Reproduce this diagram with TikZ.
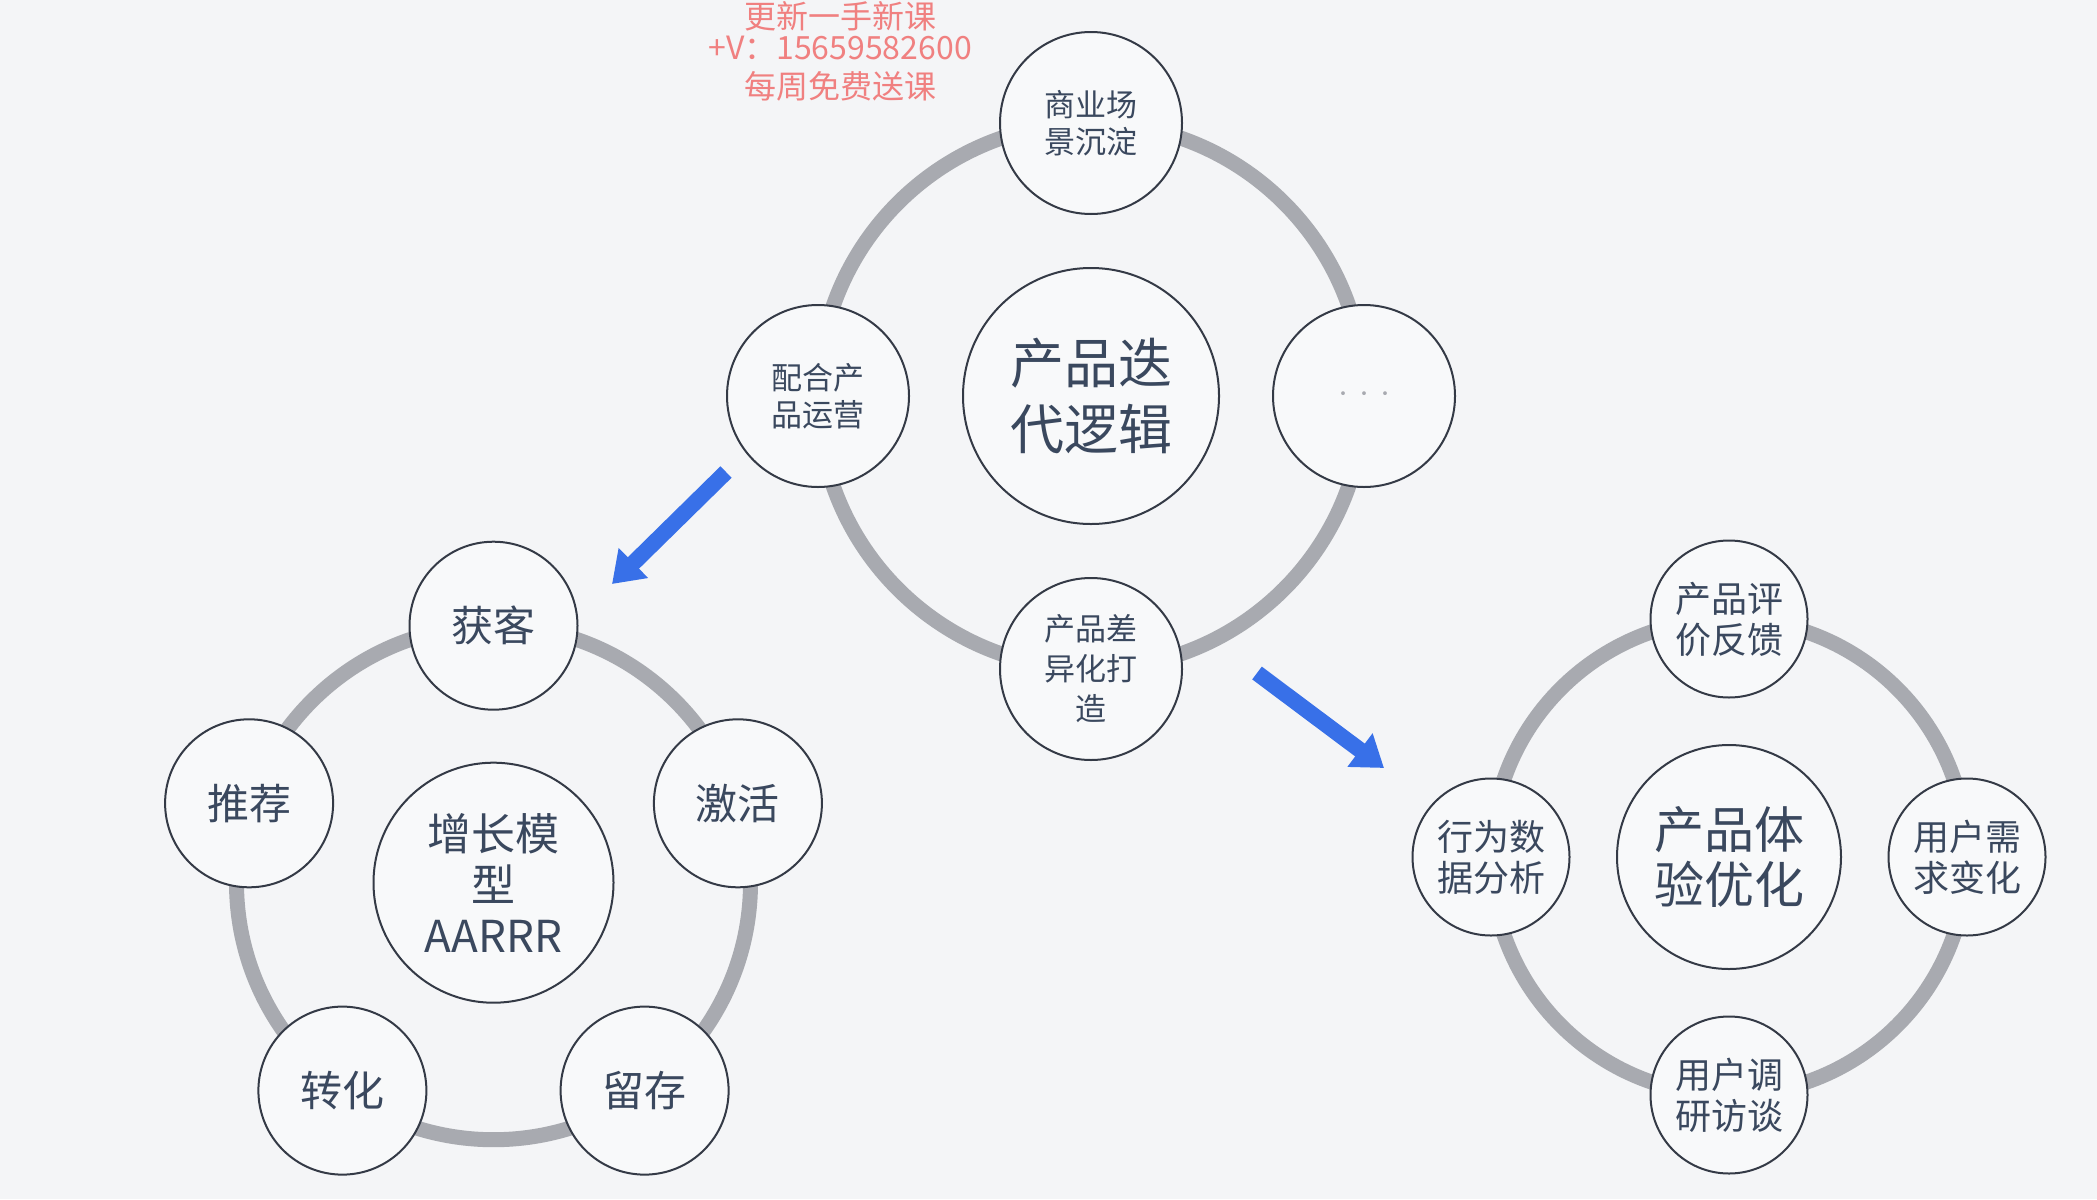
\documentclass[tikz,border=0pt]{standalone}
\usepackage{fontspec}
\setmainfont{Noto Sans CJK SC}
\usetikzlibrary{arrows.meta}

\definecolor{bgc}{RGB}{244,245,247}
\definecolor{nodefill}{RGB}{248,249,250}
\definecolor{edgec}{RGB}{52,58,70}
\definecolor{ringc}{RGB}{168,170,176}
\definecolor{txtc}{RGB}{58,72,94}
\definecolor{arrowc}{RGB}{56,112,232}
\definecolor{markc}{RGB}{240,128,128}

\tikzset{
  bubble/.style={circle, draw=edgec, line width=1pt, fill=nodefill,
    text=txtc, align=center, inner sep=0pt},
  ring/.style={draw=ringc, line width=7.5pt},
  flow/.style={draw=arrowc, line width=8pt,
    -{Triangle[width=20pt,length=15pt]}},
  watermark/.style={text=markc, font=\fontsize{16}{20}\selectfont, align=center}
}

\begin{document}
\begin{tikzpicture}[x=0.5pt, y=-0.5pt]
  % page and background
  \fill[bgc] (0,0) rectangle (2097,1199);
  \useasboundingbox (0,0) rectangle (2097,1199);

  % ---------- product iteration loop ----------
  \draw[ring] (1091,396) circle[radius=136.5pt];
  \node[bubble, minimum size=128pt, font=\fontsize{27}{32.5}\selectfont]
    (iter) at (1091,396) {产品迭\\代逻辑};
  \node[bubble, minimum size=91pt, font=\fontsize{15.5}{18.5}\selectfont]
    (scene) at (1091,123) {商业场\\景沉淀};
  \node[bubble, minimum size=91pt, font=\fontsize{15.5}{18.5}\selectfont]
    (ops) at (818,396) {配合产\\品运营};
  \node[bubble, minimum size=91pt, font=\fontsize{9}{10}\selectfont, text=ringc]
    (more) at (1364,396) {\raisebox{-3pt}{·\,·\,·}};
  \node[bubble, minimum size=91pt, font=\fontsize{15.5}{20}\selectfont]
    (diff) at (1091,669) {产品差\\异化打\\造};

  % ---------- growth model (AARRR) ----------
  \draw[ring] (493.5,882.7) circle[radius=128.5pt];
  \node[bubble, minimum size=120pt, font=\fontsize{22}{25.5}\selectfont]
    (growth) at (493.5,882.7) {增长模\\型\\AARRR};
  \node[bubble, minimum size=84pt, font=\fontsize{21}{25}\selectfont]
    (acq) at (493.5,625.7) {获客};
  \node[bubble, minimum size=84pt, font=\fontsize{21}{25}\selectfont]
    (ref) at (249.1,803.3) {推荐};
  \node[bubble, minimum size=84pt, font=\fontsize{21}{25}\selectfont]
    (act) at (737.9,803.3) {激活};
  \node[bubble, minimum size=84pt, font=\fontsize{21}{25}\selectfont]
    (rev) at (342.4,1090.6) {转化};
  \node[bubble, minimum size=84pt, font=\fontsize{21}{25}\selectfont]
    (ret) at (644.6,1090.6) {留存};

  % ---------- experience optimisation ----------
  \draw[ring] (1729,857) circle[radius=119pt];
  \node[bubble, minimum size=112pt, font=\fontsize{25}{27.5}\selectfont]
    (exp) at (1729,857) {产品体\\验优化};
  \node[bubble, minimum size=78.5pt, font=\fontsize{18}{20.5}\selectfont]
    (review) at (1729,619) {产品评\\价反馈};
  \node[bubble, minimum size=78.5pt, font=\fontsize{18}{20.5}\selectfont]
    (data) at (1491,857) {行为数\\据分析};
  \node[bubble, minimum size=78.5pt, font=\fontsize{18}{20.5}\selectfont]
    (need) at (1967,857) {用户需\\求变化};
  \node[bubble, minimum size=78.5pt, font=\fontsize{18}{20.5}\selectfont]
    (survey) at (1729,1095) {用户调\\研访谈};

  % ---------- flow arrows between the loops ----------
  \coordinate (a1s) at (726,472);
  \coordinate (a1e) at (612,584);
  \coordinate (a2s) at (1257,673);
  \coordinate (a2e) at (1384,768);
  \draw[flow] (a1s) -- (a1e);
  \draw[flow] (a2s) -- (a2e);

  % ---------- stamp at the top ----------
  \node[watermark] (wm1) at (840,16) {更新一手新课};
  \node[watermark] (wm2) at (840,48) {+V：15659582600};
  \node[watermark] (wm3) at (840,86) {每周免费送课};
\end{tikzpicture}
\end{document}
